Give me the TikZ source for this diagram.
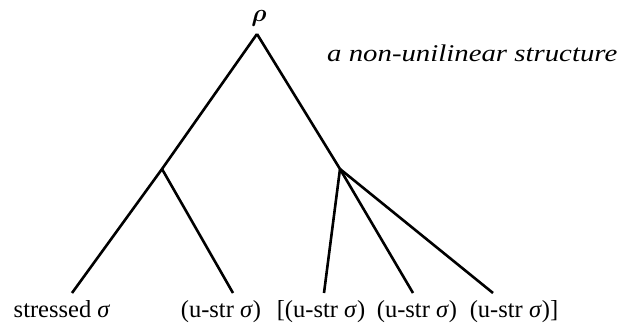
\documentclass[tikz,border=0pt]{standalone}
\usepackage{amsmath}
\usepackage{fontspec}
\setmainfont{Liberation Serif}
\begin{document}
\begin{tikzpicture}[x=1pt,y=-1pt,
  branch/.style={line width=2.6pt},
  leaf/.style={font=\fontsize{24.5}{26}\selectfont, anchor=base, inner sep=0pt},
  pt/.style={inner sep=0pt, outer sep=0pt, minimum size=0pt}]
\useasboundingbox (0,0) rectangle (627,322);
\node[pt] (root) at (257,34) {};
\node[pt] (L) at (162,169) {};
\node[pt] (R) at (340,169) {};
\coordinate (l1) at (72,293);
\coordinate (l2) at (233,293);
\coordinate (r1) at (324,293);
\coordinate (r2) at (413,293);
\coordinate (r3) at (493,293);
\node[font=\fontsize{28}{30}\selectfont, inner sep=0pt] (rho) at (259,18) {$\boldsymbol{\rho}$};
\node[font=\fontsize{24}{26}\selectfont\itshape, anchor=base west, inner sep=0pt] (title) at (327,61) {\addfontfeature{FakeStretch=1.2}a non-unilinear structure};
\draw[branch, line join=miter] (l1) -- (L) -- (root) -- (R);
\draw[branch] (L) -- (l2);
\draw[branch] (R) -- (r1);
\draw[branch] (R) -- (r2);
\draw[branch] (R) -- (r3);
\node[leaf] (t1) at (62,317) {stressed \textit{σ}};
\node[leaf] (t2) at (221,317) {(u-str \textit{σ})};
\node[leaf] (t3) at (321,317) {[(u-str \textit{σ})};
\node[leaf] (t4) at (417,317) {(u-str \textit{σ})};
\node[leaf] (t5) at (514,317) {(u-str \textit{σ})]};
\end{tikzpicture}
\end{document}
